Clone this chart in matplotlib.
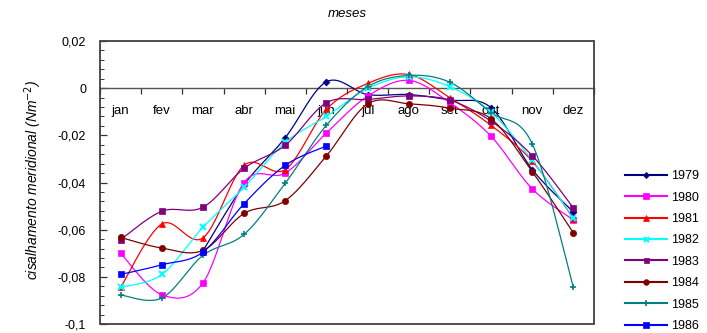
import numpy as np
import matplotlib
matplotlib.use("Agg")
import matplotlib.pyplot as plt
from matplotlib.patches import Rectangle
from matplotlib.lines import Line2D

plt.rcParams['font.family'] = ['Liberation Sans', 'DejaVu Sans']

months = ['jan', 'fev', 'mar', 'abr', 'mai', 'jun', 'jul', 'ago', 'set', 'out', 'nov', 'dez']
nan = np.nan

s1979 = [nan, nan, -0.069, -0.041, -0.021, 0.0027, -0.0027, -0.0027, -0.005, -0.0083, -0.0345, -0.0525]
s1980 = [-0.070, -0.0876, -0.0826, -0.040, -0.036, -0.019, -0.0034, 0.0033, -0.0062, -0.0204, -0.0427, -0.0559]
s1981 = [-0.0845, -0.0576, -0.0635, -0.0327, -0.0345, -0.009, 0.002, 0.0058, -0.0041, -0.0158, -0.031, -0.0553]
s1982 = [-0.0845, -0.079, -0.059, -0.042, -0.023, -0.012, -0.0001, 0.0048, 0.0006, -0.0102, -0.0306, -0.055]
s1983 = [-0.0642, -0.0522, -0.0505, -0.034, -0.0242, -0.0062, -0.0048, -0.0033, -0.0051, -0.014, -0.0286, -0.0508]
s1984 = [-0.0633, -0.0678, -0.0688, -0.0531, -0.0477, -0.0287, -0.0067, -0.0066, -0.0085, -0.013, -0.0354, -0.0614]
s1985 = [-0.0877, -0.089, -0.0709, -0.062, -0.0403, -0.0157, 0.0006, 0.0054, 0.0025, -0.0104, -0.0236, -0.0845]
s1986 = [-0.079, -0.0749, -0.0695, -0.049, -0.0327, -0.0245]

years = ['1979', '1980', '1981', '1982', '1983', '1984', '1985', '1986']
series = [s1979, s1980, s1981, s1982, s1983, s1984, s1985, s1986]

yticks = [0.02, 0.0, -0.02, -0.04, -0.06, -0.08, -0.1]
ytick_labels = ['0,02', '0', '-0,02', '-0,04', '-0,06', '-0,08', '-0,1']

styles = {
    '1979': dict(color='#000080', marker='D', ms=3.5, mew=0.5),
    '1980': dict(color='#FF00FF', marker='s', ms=4.5, mew=0.5),
    '1981': dict(color='#FF0000', marker='^', ms=4.5, mew=0.5),
    '1982': dict(color='#00FFFF', marker='x', ms=4, mew=1.5),
    '1983': dict(color='#800080', marker='s', ms=4, mew=0.5),
    '1984': dict(color='#800000', marker='o', ms=4.5, mew=0.5),
    '1985': dict(color='#008080', marker='+', ms=5, mew=1.2),
    '1986': dict(color='#0000FF', marker='s', ms=4.5, mew=0.5),
}


def smooth_curve(xs, ys, n=24):
    pts = np.array([(x, y) for x, y in zip(xs, ys) if not np.isnan(y)], dtype=float)
    if len(pts) < 2:
        return pts[:, 0], pts[:, 1]
    out = [pts[0]]
    t = np.linspace(0, 1, n)[1:, None]
    for i in range(len(pts) - 1):
        p0 = pts[i - 1] if i > 0 else pts[i]
        p1, p2 = pts[i], pts[i + 1]
        p3 = pts[i + 2] if i + 2 < len(pts) else pts[i + 1]
        c1 = p1 + (p2 - p0) / 6.0
        c2 = p2 - (p3 - p1) / 6.0
        seg = ((1 - t) ** 3) * p1 + 3 * ((1 - t) ** 2) * t * c1 + 3 * (1 - t) * t ** 2 * c2 + t ** 3 * p2
        out.extend(seg)
    out = np.array(out)
    return out[:, 0], out[:, 1]


W, H = 707, 333
fig = plt.figure(figsize=(W / 100, H / 100), dpi=100)
ax = fig.add_axes([100 / W, (H - 324) / H, (594 - 100) / W, (324 - 41) / H])

x = np.arange(len(months))
for yr, vals in zip(years, series):
    st = styles[yr]
    xv = x[:len(vals)]
    sx, sy = smooth_curve(xv, vals)
    ax.plot(sx, sy, color=st['color'], lw=0.9, zorder=3)
    ax.plot(xv, vals, ls='none', marker=st['marker'], ms=st['ms'], mew=st['mew'],
            color=st['color'], mfc=st['color'], mec=st['color'], zorder=4)

ax.set_xlim(-0.5, len(months) - 0.5)
ax.set_ylim(-0.1, 0.02)

# frame around the plot area
for s in ['top', 'right', 'left']:
    ax.spines[s].set_visible(False)
ax.add_patch(Rectangle((0, 0), 1, 1, transform=ax.transAxes, fill=False,
                       ec='#404040', lw=1.3, clip_on=False, zorder=5))
ax.spines['bottom'].set_position(('data', 0))
ax.spines['bottom'].set_color('#555555')
ax.spines['bottom'].set_linewidth(1.0)

# category boundaries as ticks on the zero line, labels at the centres
ax.set_xticks(np.arange(-0.5, len(months), 1.0))
ax.set_xticklabels([])
ax.tick_params(axis='x', which='major', direction='out', length=4, width=0.9, color='#333333')
ax.set_xticks(x, minor=True)
ax.set_xticklabels(months, minor=True, fontsize=9.5)
ax.tick_params(axis='x', which='minor', length=0, pad=12)

ax.set_yticks(yticks)
ax.set_yticklabels(ytick_labels, fontsize=9)
ax.set_yticks(np.arange(-0.1, 0.0201, 0.004), minor=True)
ax.tick_params(axis='y', which='major', direction='in', length=5, width=0.9, color='#333333', pad=10)
ax.tick_params(axis='y', which='minor', direction='in', length=3, width=0.7, color='#333333')

fig.text(347 / W, 1 - 14 / H, 'meses', ha='center', va='center', fontsize=9.5, style='italic')
fig.text(33 / W, 1 - 180 / H, r'cisalhamento meridional (Nm$^{-2}$)', ha='center', va='center',
         rotation=90, fontsize=10, style='italic')

handles = []
for yr in years:
    st = styles[yr]
    handles.append(Line2D([0], [0], color=st['color'], lw=1.5, marker=st['marker'], ms=st['ms'] * 0.9,
                          mew=st['mew'], mfc=st['color'], mec=st['color']))
fig.legend(handles, years, loc='upper left', bbox_to_anchor=(619 / W, 1 - 164 / H),
           frameon=False, fontsize=9, handlelength=3.3, handletextpad=0.35, labelspacing=0.75,
           borderpad=0)

fig.savefig('out.png', dpi=100)
